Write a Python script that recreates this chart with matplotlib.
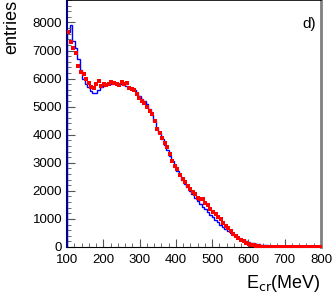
import numpy as np
import matplotlib.pyplot as plt
from matplotlib.ticker import MultipleLocator

plt.rcParams['font.family'] = ['Liberation Sans', 'DejaVu Sans']

# histogram binning: 100 bins of 7 MeV from 100 to 800 MeV
edges = np.linspace(100, 800, 101)

# data (red points)
data_counts = [7650, 7300, 7100, 6900, 6450, 6250, 6150, 6000, 5850, 5700,
               5650, 5800, 5900, 5750, 5800, 5780, 5820, 5880, 5860, 5800,
               5760, 5880, 5820, 5840, 5680, 5620, 5580, 5450, 5300, 5200,
               5120, 4980, 4850, 4720, 4480, 4220, 4050, 3870, 3720, 3560,
               3300, 3080, 2900, 2780, 2580, 2420, 2300, 2180, 2050, 1960,
               1870, 1760, 1720, 1720, 1560, 1480, 1350, 1250, 1180, 1080,
               1000, 850, 760, 660, 560, 470, 400, 330, 260, 200,
               150, 110, 80, 60, 40, 25, 15, 10, 6, 4,
               3, 2, 2, 1, 1, 1, 0, 0, 0, 0,
               0, 0, 0, 0, 0, 0, 0, 0, 0, 0]

# simulation (blue histogram)
mc_counts = [7650, 7900, 7350, 7100, 6700, 6300, 6000, 5800, 5700, 5550,
             5500, 5500, 5600, 5700, 5750, 5780, 5800, 5820, 5830, 5830,
             5820, 5800, 5780, 5740, 5700, 5650, 5580, 5480, 5380, 5280,
             5200, 5080, 4900, 4700, 4480, 4250, 4050, 3850, 3650, 3450,
             3250, 3050, 2880, 2720, 2550, 2400, 2260, 2130, 2000, 1880,
             1760, 1650, 1540, 1440, 1340, 1240, 1150, 1060, 970, 880,
             800, 720, 640, 570, 500, 440, 380, 330, 285, 245,
             210, 180, 155, 130, 110, 92, 78, 65, 55, 46,
             38, 32, 27, 22, 18, 15, 12, 10, 8, 7,
             6, 5, 4, 3, 3, 2, 2, 1, 1, 1]

centers = 0.5 * (edges[:-1] + edges[1:])

fig = plt.figure(figsize=(3.32, 2.94), dpi=100)
ax = fig.add_axes([0.2018, 0.16, 0.765, 0.84])

ax.stairs(mc_counts, edges, color='blue', linewidth=1.0, baseline=0)
ax.plot(centers, data_counts, 's', color='red', markersize=3.2,
        markeredgewidth=0, zorder=3)

ax.set_xlim(100, 800)
ax.set_ylim(0, 8800)
ax.xaxis.set_major_locator(MultipleLocator(100))
ax.xaxis.set_minor_locator(MultipleLocator(20))
ax.yaxis.set_major_locator(MultipleLocator(1000))
ax.yaxis.set_minor_locator(MultipleLocator(200))
ax.tick_params(which='both', direction='in', top=False, right=False,
               labelsize=9.5, color='#555555')
ax.tick_params(which='major', length=6, width=0.8)
ax.tick_params(which='minor', length=3, width=0.6)
ax.tick_params(axis='x', pad=5)

ax.spines['left'].set_color('#00008b')
ax.spines['left'].set_linewidth(1.5)
ax.spines['right'].set_color('#808080')
ax.spines['right'].set_linewidth(2.0)
ax.spines['top'].set_linewidth(1.2)

fig.text(0.01, 1.0, 'entries', rotation=90, ha='left', va='top', fontsize=13)
fig.text(0.967, 0.0, r'E$_{\mathrm{cr}}$(MeV)', ha='right', va='bottom', fontsize=13)
ax.text(0.98, 0.93, 'd)', transform=ax.transAxes, ha='right', va='top', fontsize=11)

fig.savefig('out.png', dpi=100)
